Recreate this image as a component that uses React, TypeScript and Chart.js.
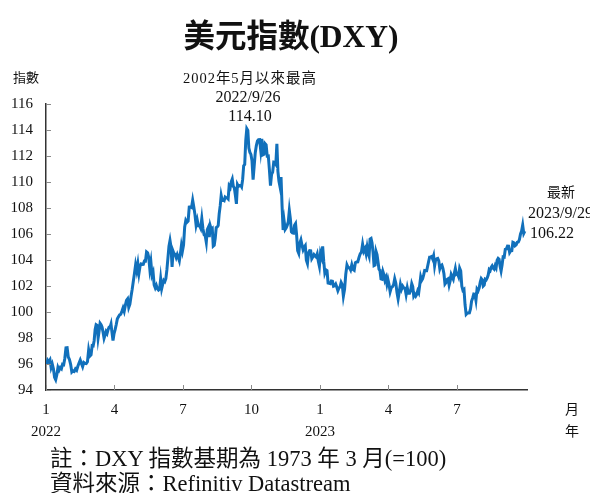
import React, { useEffect, useRef } from "react";
import { Chart, registerables } from "chart.js";

Chart.register(...registerables);

// DXY daily closes, grouped by month (Jan 2022 - Sep 2023)
const dxy2022: number[][] = [
  [95.97, 96.29, 96.17, 96.32, 95.73, 95.99, 95.63, 94.98, 94.79, 95.17, 95.74, 95.54, 95.73, 95.64, 95.98, 95.95, 96.44, 97.25, 97.26, 96.54],
  [96.35, 95.97, 95.38, 95.48, 95.43, 95.62, 95.52, 95.82, 96.08, 96.31, 96.04, 95.79, 96.12, 96.05, 96.03, 96.17, 97.08, 96.61, 96.71],
  [97.41, 97.39, 97.79, 98.66, 99.03, 98.98, 97.99, 98.51, 99.13, 99.02, 98.83, 98.44, 97.98, 98.23, 98.49, 98.35, 98.63, 98.82, 98.81, 99.07, 98.41, 97.8, 98.31],
  [98.62, 99.02, 99.47, 99.63, 99.78, 99.83, 100.05, 100.31, 100.05, 100.51, 100.89, 101.01, 100.36, 100.61, 101.21, 101.74, 102.36, 102.97, 103.63, 103.17],
  [103.71, 102.98, 103.52, 103.7, 103.66, 103.67, 103.92, 103.91, 104.63, 104.56, 104.21, 103.31, 103.84, 102.85, 103.07, 102.08, 101.85, 102.05, 101.78, 101.68, 101.76],
  [102.55, 101.8, 102.14, 102.43, 102.34, 102.56, 103.24, 104.15, 105.07, 105.5, 104.99, 103.46, 104.67, 104.46, 104.44, 104.19, 104.42, 104.19, 103.94, 104.48, 105.11, 104.69],
  [105.14, 106.54, 107.06, 106.91, 107.0, 108.07, 108.09, 108.04, 108.59, 108.07, 107.49, 106.69, 107.08, 106.64, 106.65, 106.45, 107.19, 106.41, 105.94, 105.85],
  [105.36, 106.33, 106.5, 105.76, 106.62, 106.35, 106.42, 105.07, 105.14, 105.67, 106.49, 106.55, 106.65, 107.56, 108.16, 108.96, 108.59, 108.62, 108.57, 108.84, 108.78, 108.78, 108.7],
  [109.69, 109.56, 110.01, 110.23, 109.68, 109.55, 108.98, 108.32, 109.81, 109.66, 109.71, 109.77, 109.63, 110.18, 111.25, 111.35, 113.19, 114.1, 113.96, 112.61, 112.28, 112.12],
  [111.63, 110.18, 111.23, 112.25, 112.8, 113.15, 113.25, 113.26, 112.46, 113.31, 112.09, 112.13, 112.95, 112.85, 111.99, 112.0, 110.96, 109.72, 110.58, 110.76, 111.53],
  [111.51, 111.37, 112.93, 110.82, 110.05, 109.64, 110.39, 108.16, 106.31, 106.99, 106.35, 106.47, 106.68, 106.95, 107.81, 107.16, 106.16, 106.08, 106.06, 106.67, 106.8, 105.95],
  [104.72, 104.51, 105.31, 105.56, 105.14, 104.79, 104.99, 105.11, 103.99, 103.73, 104.57, 104.72, 104.71, 104.1, 104.24, 104.42, 104.31, 104.23, 104.47, 103.91, 103.52],
];

const dxy2023: number[][] = [
  [104.52, 104.24, 105.04, 103.89, 103.01, 103.24, 103.18, 102.22, 102.2, 102.18, 102.39, 102.37, 101.98, 102.01, 102.14, 101.92, 101.64, 101.85, 101.92, 102.27, 102.1],
  [101.22, 101.75, 102.92, 103.62, 103.42, 103.41, 103.23, 103.63, 103.28, 103.21, 103.8, 103.85, 103.86, 104.19, 104.47, 104.6, 105.21, 104.67, 104.87],
  [104.48, 104.98, 104.53, 104.29, 105.6, 105.65, 105.3, 104.58, 103.57, 103.61, 104.66, 104.41, 103.86, 103.29, 103.18, 102.55, 102.52, 103.1, 102.85, 102.44, 102.64, 102.15, 102.51],
  [102.14, 101.56, 101.87, 101.94, 102.09, 102.56, 102.21, 101.5, 101.0, 101.55, 102.13, 101.76, 101.99, 101.85, 101.84, 101.34, 101.86, 101.45, 101.45, 101.66],
  [102.18, 101.96, 101.23, 101.37, 101.22, 101.36, 101.63, 101.48, 102.06, 102.7, 102.43, 102.56, 102.85, 103.19, 103.17, 103.17, 103.52, 103.89, 104.23, 104.24, 104.27, 104.09, 104.33],
  [103.55, 104.02, 104.1, 104.13, 103.93, 103.33, 103.56, 103.62, 103.35, 102.94, 102.15, 102.26, 102.51, 102.56, 102.07, 102.39, 102.89, 102.71, 102.53, 102.98, 103.35, 102.91],
  [102.97, 102.74, 103.38, 103.17, 101.99, 101.67, 101.74, 100.54, 99.82, 99.91, 99.93, 99.94, 100.24, 100.84, 101.08, 101.39, 101.37, 100.9, 101.76, 101.63, 101.86],
  [102.3, 102.57, 102.47, 102.0, 102.08, 102.52, 102.47, 102.62, 102.84, 103.26, 103.18, 103.43, 103.55, 103.38, 103.3, 103.56, 103.4, 103.99, 104.12, 104.05, 103.52, 103.16, 103.62],
  [104.24, 104.22, 104.82, 104.85, 105.07, 105.06, 104.57, 104.71, 104.72, 105.36, 105.32, 105.1, 105.17, 105.36, 105.38, 105.58, 106.01, 106.23, 106.68, 106.05, 106.22],
];

// x ticks: months since Jan 2022
const tickMonths = [0, 3, 6, 9, 12, 15, 18];
const monthLabels = ["1", "4", "7", "10", "1", "4", "7"];
const yearLabels = ["2022", "", "", "", "2023", "", ""];
const yTicks = [94, 96, 98, 100, 102, 104, 106, 108, 110, 112, 114, 116];

const SERIF = '"Liberation Serif", "Noto Sans CJK TC", serif';

function buildPoints() {
  const pts: { x: number; y: number }[] = [];
  const all = [...dxy2022, ...dxy2023];
  all.forEach((month, mi) => {
    month.forEach((v, i) => {
      pts.push({ x: mi + (i + 0.5) / month.length, y: v });
    });
  });
  return pts;
}

const innerTicks = {
  id: "innerTicks",
  afterDraw(chart: any) {
    const { ctx, chartArea } = chart;
    const xs = chart.scales.x;
    const ys = chart.scales.y;
    ctx.save();
    ctx.strokeStyle = "#8a8a8a";
    ctx.lineWidth = 1;
    ys.ticks.forEach((t: any) => {
      const p = Math.round(ys.getPixelForValue(t.value)) + 0.5;
      ctx.beginPath();
      ctx.moveTo(chartArea.left, p);
      ctx.lineTo(chartArea.left + 5, p);
      ctx.stroke();
    });
    xs.ticks.forEach((t: any) => {
      const p = Math.round(xs.getPixelForValue(t.value)) + 0.5;
      ctx.beginPath();
      ctx.moveTo(p, chartArea.bottom);
      ctx.lineTo(p, chartArea.bottom - 5);
      ctx.stroke();
    });
    ctx.restore();
  },
};

const txt = (
  s: string,
  x: number,
  y: number,
  size: number,
  align: "center" | "left" = "center",
  extra: React.CSSProperties = {}
) => (
  <div
    style={{
      position: "absolute",
      left: x,
      top: y,
      transform: align === "center" ? "translate(-50%, -50%)" : "translate(0, -50%)",
      fontFamily: SERIF,
      fontSize: size,
      color: "#111",
      whiteSpace: "nowrap",
      lineHeight: 1,
      ...extra,
    }}
  >
    {s}
  </div>
);

export default function App() {
  const ref = useRef<HTMLCanvasElement | null>(null);
  useEffect(() => {
    if (!ref.current) return;
    const chart = new Chart(ref.current, {
      type: "line",
      data: {
        datasets: [
          {
            data: buildPoints(),
            borderColor: "#1170bb",
            borderWidth: 3,
            pointRadius: 0,
            tension: 0,
            fill: false,
          },
        ],
      },
      options: {
        animation: false,
        responsive: false,
        layout: { padding: { top: 104, right: 63, bottom: 43, left: 0 } },
        plugins: { legend: { display: false }, tooltip: { enabled: false } },
        scales: {
          x: {
            type: "linear",
            min: 0,
            max: 21.07,
            afterFit: (s: any) => {
              s.height = 60;
            },
            afterBuildTicks: (s: any) => {
              s.ticks = tickMonths.map((v) => ({ value: v }));
            },
            grid: { display: false, drawTicks: false },
            border: { display: true, color: "#333", width: 1.5 },
            ticks: {
              autoSkip: false,
              maxRotation: 0,
              padding: 9,
              color: "#111",
              font: { family: SERIF, size: 15, lineHeight: 1.47 },
              callback: (v: any) => {
                const i = tickMonths.indexOf(Number(v));
                return i >= 0 ? [monthLabels[i], yearLabels[i]] : "";
              },
            },
          },
          y: {
            min: 94,
            max: 116,
            afterFit: (s: any) => {
              s.width = 46;
            },
            afterBuildTicks: (s: any) => {
              s.ticks = yTicks.map((v) => ({ value: v }));
            },
            grid: { display: false, drawTicks: false },
            border: { display: true, color: "#333", width: 1.5 },
            ticks: {
              padding: 13,
              color: "#111",
              font: { family: SERIF, size: 15 },
            },
          },
        },
      },
      plugins: [innerTicks],
    });
    return () => chart.destroy();
  }, []);

  return (
    <div
      style={{
        position: "absolute",
        left: 0,
        top: 0,
        width: 590,
        height: 493,
        overflow: "hidden",
        background: "#fff",
      }}
    >
      <canvas ref={ref} width={590} height={493} style={{ position: "absolute", left: 0, top: 0 }} />
      {txt("美元指數(DXY)", 291, 37, 31.5, "center", { fontWeight: "bold" })}
      {txt("指數", 26, 77, 13)}
      {txt("2002年5月以來最高", 250, 78, 14.5, "center", { letterSpacing: 1 })}
      {txt("2022/9/26", 248, 97, 16)}
      {txt("114.10", 250, 116, 16)}
      {txt("最新", 561, 193, 14)}
      {txt("2023/9/29", 528, 213, 16, "left")}
      {txt("106.22", 552, 233, 16)}
      {txt("月", 572, 410, 14)}
      {txt("年", 572, 432, 14)}
      {txt("註：DXY 指數基期為 1973 年 3 月(=100)", 50, 459, 22.5, "left")}
      {txt("資料來源：Refinitiv Datastream", 50, 484, 22.5, "left")}
    </div>
  );
}
